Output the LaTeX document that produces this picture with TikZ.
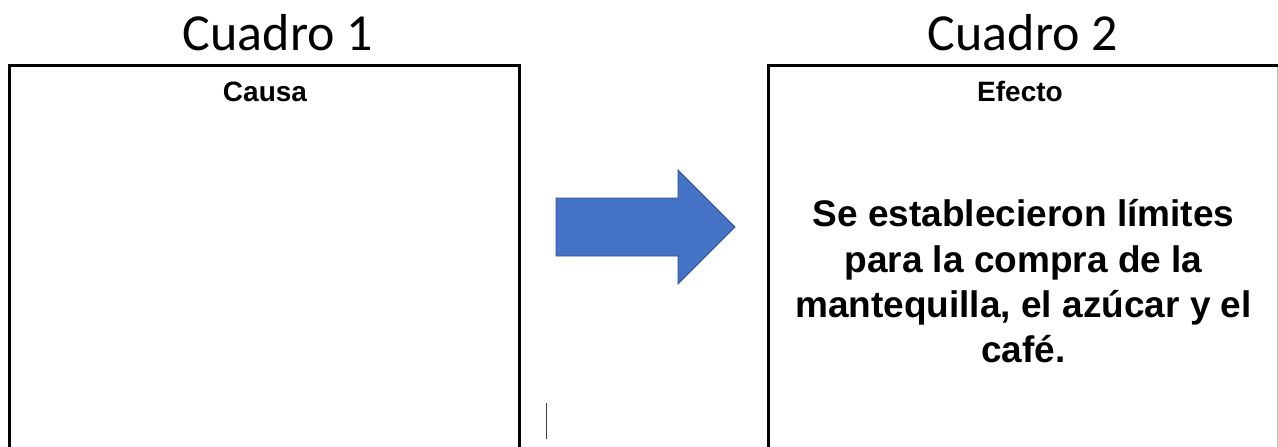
\documentclass[tikz,border=0pt]{standalone}
\usepackage{fontspec}
\setmainfont{Liberation Sans}
\newfontfamily\titlefont{Carlito}
\definecolor{arrowfill}{RGB}{68,114,196}
\definecolor{arrowedge}{RGB}{47,82,143}
\begin{document}
\begin{tikzpicture}[x=1pt,y=-1pt,
  title/.style={font=\titlefont\fontsize{52}{52}\selectfont, anchor=base, inner sep=0pt},
  head/.style={font=\bfseries\fontsize{28}{28}\selectfont, anchor=base, inner sep=0pt},
  body/.style={font=\bfseries\fontsize{37}{37}\selectfont, anchor=base, inner sep=0pt},
  frame/.style={line width=3pt, black},
  bigarrow/.style={fill=arrowfill, draw=arrowedge, line width=0.8pt, line join=miter}]
\useasboundingbox (0,0) rectangle (1278,447);
% frames
\draw[frame] (9.5,452) -- (9.5,65) -- (519.5,65) -- (519.5,452);
\draw[frame] (768.5,452) -- (768.5,65) -- (1280,65);
\draw[gray!50, line width=1pt] (1277,66.5) -- (1277,452);
% titles
\node[title] (t1) at (278,50) {Cuadro 1};
\node[title] (t2) at (1023,50) {Cuadro 2};
\node[head] (causa) at (265,101) {Causa};
\node[head] (efecto) at (1020,101) {Efecto};
% body text
\node[body] (l1) at (1023.5,226) {Se establecieron límites};
\node[body] (l2) at (1023.5,272) {para la compra de la};
\node[body] (l3) at (1023.5,317) {mantequilla, el azúcar y el};
\node[body] (l4) at (1023.5,362) {café.};
% arrow
\draw[bigarrow] (556,198) -- (678,198) -- (678,170) -- (735,227) -- (678,284) -- (678,256) -- (556,256) -- cycle;
% cursor
\draw[black!75, line width=1.2pt] (546.7,403) -- (546.7,439);
\end{tikzpicture}
\end{document}
